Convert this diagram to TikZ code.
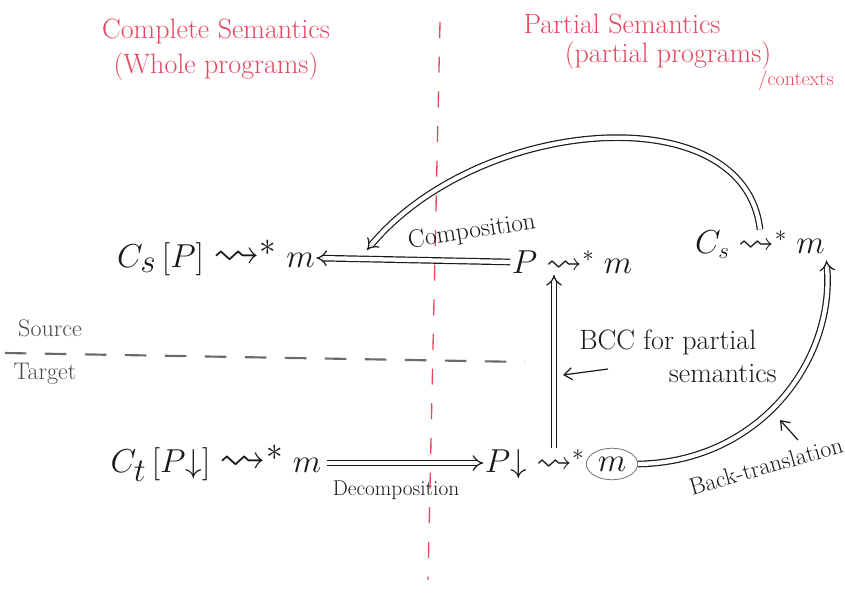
\documentclass[tikz,border=0pt]{standalone}
\usepackage{amssymb}
\usetikzlibrary{arrows.meta,shapes.geometric}
\definecolor{inkred}{RGB}{232,70,95}
\definecolor{ink}{RGB}{25,25,25}
\begin{document}
\begin{tikzpicture}[x=0.75pt,y=-0.75pt,
  formula/.style={font=\fontsize{35}{40}\selectfont, text=ink, inner sep=1pt},
  smallformula/.style={font=\fontsize{27}{32}\selectfont, text=ink, inner sep=1pt},
  redlabel/.style={font=\fontsize{21}{26}\selectfont, text=inkred, align=center},
  sidelabel/.style={font=\fontsize{18}{22}\selectfont, text=ink!80},
  arrlabel/.style={font=\fontsize{17}{21}\selectfont, text=ink},
  dbl/.style={draw=ink, double=white, double distance=3.2pt, line width=0.9pt, -{Implies}},
  thin arrow/.style={draw=ink, line width=0.9pt, -{Straight Barb[length=6pt,width=9pt]}},
  divider/.style={draw=inkred, line width=1pt, dash pattern=on 12pt off 14pt},
  split/.style={draw=ink!65, line width=1.6pt, dash pattern=on 16pt off 14pt}]
\useasboundingbox[fill=white] (0,0) rectangle (845,603);

% headings
\node[redlabel] (hc) at (216,50) {Complete Semantics\\(Whole programs)};
\node[redlabel] (hp1) at (622,24) {Partial Semantics};
\node[redlabel] (hp2) at (668,56) {(partial programs)};
\node[redlabel, font=\fontsize{15}{18}\selectfont] (hcx) at (796,80) {/contexts};

% vertical divider
\coordinate (dtop) at (440,22);
\coordinate (dbot) at (428,580);
\draw[divider] (dtop) -- (dbot);

% source / target divider
\coordinate (sl) at (5,353);
\coordinate (sr) at (525,362);
\draw[split] (sl) -- (sr);
\node[sidelabel] (src) at (50,328) {Source};
\node[sidelabel] (tgt) at (45,374) {Target};

% formulas
\node[formula] (csp) at (216,258) {$C_s\,[P] \rightsquigarrow^{*} m$};
\node[smallformula] (pm) at (572,262) {$P \rightsquigarrow^{*} m$};
\node[smallformula] (cs) at (760,245) {$C_s \rightsquigarrow^{*} m$};
\node[formula] (ctp) at (216,463) {$C_t\,[P{\downarrow}] \rightsquigarrow^{*} m$};
\node[smallformula, ellipse, draw=ink!60, line width=0.6pt, inner sep=3pt] (pdm) at (612,464) {$m$};
\node[smallformula, anchor=east] (pd) at (pdm.west) {$P{\downarrow} \rightsquigarrow^{*}$};

% composition
\draw[dbl] (pm.west) -- (csp.east);
\node[arrlabel, font=\fontsize{19}{23}\selectfont, rotate=9] (lcomp) at (472,232) {Composition};

% big arc from C_s to C_s[P]
\coordinate (arcend) at (367,250);
\draw[dbl] (cs.north) .. controls (745,95) and (480,115) .. (arcend);

% BCC
\coordinate (bccx) at (554,0);
\draw[dbl] (bccx |- pd.north) coordinate (bccs) -- (bccx |- pm.south);
\node[arrlabel, align=left, font=\fontsize{21}{25}\selectfont] (lbcc) at (678,356) {BCC for partial\\\hspace*{3.2em}semantics};
\coordinate (bccfrom) at (608,369);
\coordinate (bcctip) at (563,375);
\draw[thin arrow] (bccfrom) -- (bcctip);

% decomposition
\draw[dbl] (ctp.east) ++(4,0) coordinate (decs) -- (pd.west |- decs);
\node[arrlabel, font=\fontsize{16}{20}\selectfont] (ldec) at (396,490) {Decomposition};

% back-translation
\draw[dbl] (pdm.east) .. controls (760,462) and (835,360) .. (cs.south east);
\node[arrlabel, font=\fontsize{18}{22}\selectfont, rotate=16] (lback) at (766,466) {Back-translation};
\coordinate (bkfrom) at (798,440);
\coordinate (bkto) at (780,420);
\draw[thin arrow] (bkfrom) -- (bkto);
\end{tikzpicture}
\end{document}
